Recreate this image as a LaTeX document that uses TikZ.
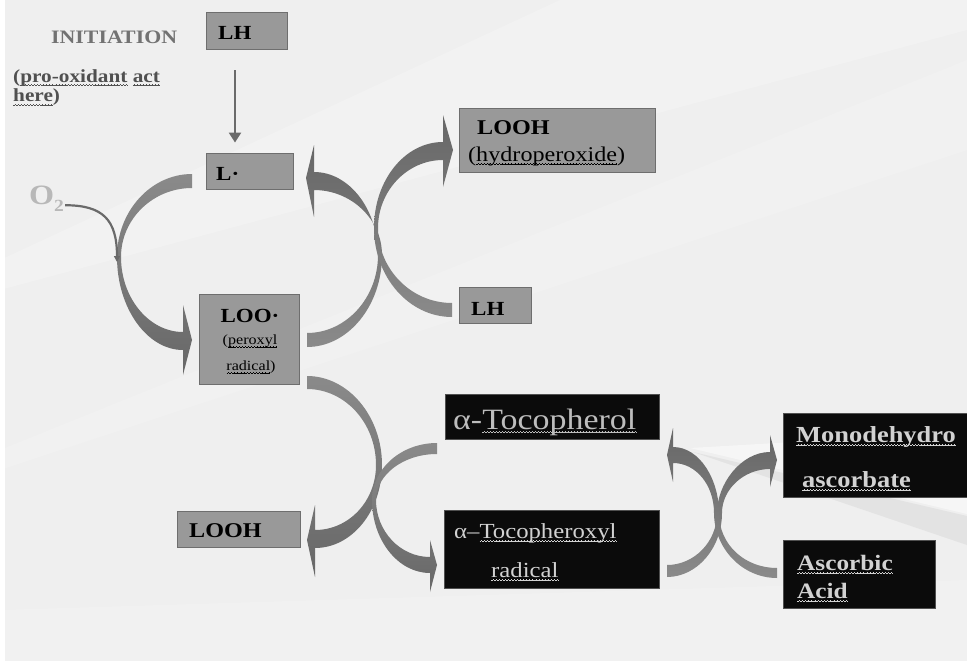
\documentclass[tikz,border=0pt]{standalone}
\usepackage{fontspec}
\setmainfont{Liberation Serif}[FakeStretch=1.15]
\usetikzlibrary{arrows.meta,calc}
\definecolor{bgc}{HTML}{EFEFEF}
\definecolor{boxgray}{HTML}{999999}
\definecolor{boxedge}{HTML}{6E6E6E}
\definecolor{armlight}{HTML}{8A8A8A}
\definecolor{armdark}{HTML}{676767}
\definecolor{linegray}{HTML}{6A6A6A}
\definecolor{blk}{HTML}{0B0B0B}
\definecolor{blkedge}{HTML}{505050}
\definecolor{lighttext}{HTML}{D2D2D2}
\definecolor{toctext}{HTML}{BDBDBD}
\definecolor{initgray}{HTML}{727272}
\definecolor{progray}{HTML}{505050}
\definecolor{otwo}{HTML}{B8B8B8}
\newcommand{\fs}[1]{\fontsize{#1}{#1}\selectfont}
\newsavebox{\wavebox}
\newcommand{\wavepiece}{\hbox{\rule[-3.6pt]{0.75pt}{0.4pt}\rule[-3.1pt]{0.75pt}{0.4pt}\rule[-2.6pt]{0.75pt}{0.4pt}\rule[-3.1pt]{0.75pt}{0.4pt}}}
\newcommand{\uwave}[1]{\sbox{\wavebox}{#1}\rlap{\smash{\hbox to \wd\wavebox{\xleaders\wavepiece\hfil}}}\usebox{\wavebox}}
\tikzset{
  graybox/.style={draw=boxedge, fill=boxgray, line width=0.9pt, inner sep=0pt},
  blackbox/.style={draw=blkedge, fill=blk, line width=0.9pt, inner sep=0pt},
  txt/.style={inner sep=0pt, anchor=base west},
  fatdown/.style={top color=armlight, bottom color=armdark, draw=none},
  fatup/.style={top color=armdark, bottom color=armlight, draw=none},
  thinarrow/.style={draw=linegray, line width=2.4pt, -{Triangle[length=10pt,width=12pt]}},
  otwoline/.style={draw=linegray, line width=2.2pt, -{Triangle[length=6pt,width=6pt]}},
}
\begin{document}
\begin{tikzpicture}[x=1pt,y=-1pt]
% background
\fill[bgc] (0,0) rectangle (967,661);
\useasboundingbox (0,0) rectangle (967,661);
\fill[white,opacity=0.2] (967,0) -- (560,0) -- (0,260) -- (0,290) -- (967,30) -- cycle;
\fill[white,opacity=0.15] (967,60) -- (967,150) -- (0,470) -- (0,450) -- cycle;
\fill[white,opacity=0.15] (0,610) -- (967,580) -- (967,661) -- (0,661) -- cycle;
\fill[white,opacity=0.45] (690,448) -- (967,432) -- (967,514) -- cycle;
\fill[black!12,opacity=0.8] (693,452) -- (967,516) -- (967,545) -- cycle;
\fill[white] (0,0) rectangle (5,661);

% fat curved arrows
% L. -> LOO.
\shade[fatdown] (192,174) .. controls (151,174) and (117,211) .. (117,257)
  .. controls (117,308) and (147,350) .. (183,350)
  -- (183,375) -- (192,340) -- (183,305) -- (183,332)
  .. controls (149,332) and (121,298) .. (121,257)
  .. controls (121,219) and (153,188) .. (192,188) -- cycle;
% LOO. -> L.
\shade[fatup] (307,347) .. controls (348,347) and (382,306) .. (382,255)
  .. controls (382,219) and (351,190) .. (314,190)
  -- (314,217) -- (306,178) -- (314,145) -- (314,172)
  .. controls (349,172) and (378,209) .. (378,255)
  .. controls (378,298) and (346,333) .. (307,333) -- cycle;
% LH -> LOOH
\shade[fatup] (452,317) .. controls (409,317) and (374,277) .. (374,228)
  .. controls (374,180) and (405,142) .. (443,142)
  -- (443,115) -- (453,150) -- (443,187) -- (443,160)
  .. controls (407,160) and (378,191) .. (378,228)
  .. controls (378,269) and (411,303) .. (452,303) -- cycle;
% LOO. -> LOOH (bottom)
\shade[fatdown] (307,376) .. controls (348,376) and (382,416) .. (382,465)
  .. controls (382,511) and (352,548) .. (315,548)
  -- (315,577) -- (307,540) -- (315,505) -- (315,530)
  .. controls (349,530) and (376,501) .. (376,465)
  .. controls (376,423) and (345,389) .. (307,389) -- cycle;
% alpha-Tocopherol -> alpha-Tocopheroxyl
\shade[fatdown] (437,443) .. controls (401,443) and (372,469) .. (372,500)
  .. controls (372,540) and (398,573) .. (430,573)
  -- (430,592) -- (437,565) -- (430,540) -- (430,557)
  .. controls (400,557) and (376,531) .. (376,500)
  .. controls (376,475) and (403,454) .. (437,454) -- cycle;
% alpha-Tocopheroxyl -> Monodehydroascorbate
\shade[fatup] (667,577) .. controls (697,577) and (722,548) .. (722,513)
  .. controls (722,489) and (744,469) .. (770,469)
  -- (770,487) -- (777,460) -- (770,435) -- (770,452)
  .. controls (741,452) and (717,484) .. (717,513)
  .. controls (717,542) and (694,565) .. (667,565) -- cycle;
% Ascorbic acid -> alpha-Tocopherol
\shade[fatup] (777,578) .. controls (742,578) and (714,548) .. (714,513)
  .. controls (714,485) and (696,463) .. (673,463)
  -- (673,482) -- (667,455) -- (673,428) -- (673,447)
  .. controls (700,447) and (719,480) .. (719,513)
  .. controls (719,545) and (745,568) .. (777,568) -- cycle;

% boxes
\node[graybox, minimum width=81pt, minimum height=37pt] (LH1) at (246.5,30.5) {};
\node[graybox, minimum width=87pt, minimum height=36pt] (Lr) at (249.5,171) {};
\node[graybox, minimum width=196pt, minimum height=64pt] (LOOH1) at (557,140) {};
\node[graybox, minimum width=72pt, minimum height=36pt] (LH2) at (495,305) {};
\node[graybox, minimum width=100pt, minimum height=90pt] (LOO) at (249,339) {};
\node[graybox, minimum width=123pt, minimum height=36pt] (LOOH2) at (238.5,529) {};
\node[blackbox, minimum width=214pt, minimum height=45pt] (Toc) at (552,417) {};
\node[blackbox, minimum width=215pt, minimum height=78pt] (TocO) at (551.5,549) {};
\node[blackbox, minimum width=194pt, minimum height=84pt] (MDA) at (880,455) {};
\node[blackbox, minimum width=152pt, minimum height=68pt] (AA) at (859,574) {};

% texts
\node[txt, font=\bfseries\fs{19}, text=initgray] (tInit) at (51,44) {INITIATION};
\node[txt, font=\bfseries\fs{18.5}, text=progray] (tPro1) at (13,82) {(\uwave{pro-oxidant} \uwave{act}};
\node[txt, font=\bfseries\fs{18.5}, text=progray] (tPro2) at (13,102) {\uwave{here})};
\node[txt, font=\bfseries\fs{28}, text=otwo] (O2) at (29,204) {O\raisebox{-7pt}{\fs{17}2}};

\node[txt, font=\bfseries\fs{20}] (tLH1) at (218,40) {LH};
\node[txt, font=\bfseries\fs{20}] (tL) at (216,180) {L·};
\node[txt, font=\bfseries\fs{21}] (tLOOH1) at (477,135) {LOOH};
\node[txt, font=\fs{21}] (tHyd) at (468,161) {(\uwave{hydroperoxide})};
\node[txt, font=\bfseries\fs{20}] (tLH2) at (471,315) {LH};
\node[txt, anchor=base, font=\bfseries\fs{20}] (tLOO) at (250,322) {LOO·};
\node[txt, anchor=base, font=\fs{14}] (tPer) at (250,344) {(\uwave{peroxyl}};
\node[txt, anchor=base, font=\fs{14}] (tRad) at (251,370) {\uwave{radical})};
\node[txt, font=\bfseries\fs{21}] (tLOOH2) at (189,537) {LOOH};
\node[txt, font=\fs{29.5}, text=toctext] (tToc) at (453,429) {α-\uwave{Tocopherol}};
\node[txt, font=\fs{21.5}, text=lighttext] (tTocO1) at (454,538) {α–\uwave{Tocopheroxyl}};
\node[txt, font=\fs{21.5}, text=lighttext] (tTocO2) at (491,577) {\uwave{radical}};
\node[txt, font=\bfseries\fs{23}, text=lighttext] (tMDA1) at (796,442) {\uwave{Monodehydro}};
\node[txt, font=\bfseries\fs{23}, text=lighttext] (tMDA2) at (802,487) {\uwave{ascorbate}};
\node[txt, font=\bfseries\fs{22}, text=lighttext] (tAA1) at (797,570) {\uwave{Ascorbic}};
\node[txt, font=\bfseries\fs{22}, text=lighttext] (tAA2) at (797,598) {\uwave{Acid}};

% thin connectors
\draw[thinarrow] ([xshift=-11.5pt,yshift=-21pt]LH1.south) -- ([xshift=-14.5pt,yshift=10pt]Lr.north);
\coordinate (o2end) at (117,262);
\draw[otwoline] ([xshift=1pt,yshift=-7pt]O2.east) .. controls +(38,0) and +(0,-42) .. (o2end);
\end{tikzpicture}
\end{document}
